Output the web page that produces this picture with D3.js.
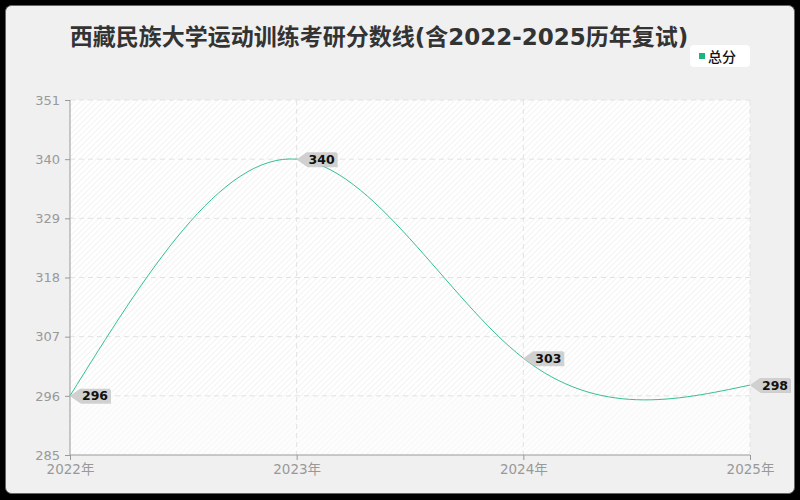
<!DOCTYPE html>
<html>
<head>
<meta charset="utf-8">
<script src="https://cdn.jsdelivr.net/npm/d3@7/dist/d3.min.js"></script>
<style>
	html, body { margin: 0; padding: 0; background: #000; }
	svg { display: block; font-family: 'DejaVu Sans', 'Noto Sans CJK SC', sans-serif; }
</style>
</head>
<body>
<div id="chart"></div>
<script>
const years = ['2022年', '2023年', '2024年', '2025年']
const scores = [296, 340, 303, 298]
const yTicks = [285, 296, 307, 318, 329, 340, 351]
const seriesName = '总分'
const title = '西藏民族大学运动训练考研分数线(含2022-2025历年复试)'

const width = 800
const height = 500
const margin = { top: 100, right: 50, bottom: 45, left: 70 }

const svg = d3.select('#chart').append('svg').attr('width', width).attr('height', height)

// hatch patterns for the plot background
const defs = svg.append('defs')
function hatch(id, bg, stroke) {
	const p = defs.append('pattern')
		.attr('id', id)
		.attr('patternUnits', 'userSpaceOnUse')
		.attr('width', 4).attr('height', 4)
		.attr('patternTransform', 'rotate(45)')
	p.append('rect').attr('width', 4).attr('height', 4).attr('fill', bg)
	p.append('line').attr('x1', 0).attr('y1', 0).attr('x2', 0).attr('y2', 4)
		.attr('stroke', stroke).attr('stroke-width', 1.5)
}
hatch('hatch', '#ffffff', '#efefef')
hatch('hatch2', '#fdfdfd', '#f5f5f5')

// outer frame
svg.append('rect').attr('width', width).attr('height', height).attr('fill', '#000')
svg.append('rect')
	.attr('x', 5.5).attr('y', 5.5).attr('width', width - 11).attr('height', height - 12)
	.attr('rx', 6)
	.attr('fill', '#f0f0f0')
	.attr('stroke', '#666').attr('stroke-width', 1)

const x = d3.scalePoint().domain(years).range([margin.left, width - margin.right])
const y = d3.scaleLinear().domain([285, 351]).range([height - margin.bottom, margin.top])

// plot background
svg.append('rect')
	.attr('x', margin.left).attr('y', margin.top)
	.attr('width', width - margin.left - margin.right)
	.attr('height', y(296) - margin.top)
	.attr('fill', 'url(#hatch)')
svg.append('rect')
	.attr('x', margin.left).attr('y', y(296))
	.attr('width', width - margin.left - margin.right)
	.attr('height', y(285) - y(296))
	.attr('fill', 'url(#hatch2)')

// grid
svg.append('g').selectAll('line').data(yTicks.slice(1)).enter().append('line')
	.attr('x1', margin.left).attr('x2', width - margin.right)
	.attr('y1', (d) => y(d)).attr('y2', (d) => y(d))
	.attr('stroke', '#e2e2e2').attr('stroke-dasharray', '5,4')
svg.append('g').selectAll('line').data(years.slice(1)).enter().append('line')
	.attr('x1', (d) => x(d)).attr('x2', (d) => x(d))
	.attr('y1', margin.top).attr('y2', height - margin.bottom)
	.attr('stroke', '#e2e2e2').attr('stroke-dasharray', '5,4')

// axes
const xAxis = svg.append('g')
	.attr('transform', `translate(0,${height - margin.bottom})`)
	.call(d3.axisBottom(x).tickSize(5).tickPadding(3))
const yAxis = svg.append('g')
	.attr('transform', `translate(${margin.left},0)`)
	.call(d3.axisLeft(y).tickValues(yTicks).tickSize(5).tickPadding(5))
;[xAxis, yAxis].forEach((a) => {
	a.selectAll('path, line').attr('stroke', '#999')
	a.selectAll('text').attr('fill', '#999').attr('font-size', 13)
		.attr('font-family', "'DejaVu Sans', 'Noto Sans CJK SC', sans-serif")
})
xAxis.selectAll('text').attr('font-size', 13.5).attr('dy', '0.78em')
xAxis.select('.domain').attr('d', `M${margin.left},0H${width - margin.right}`)
yAxis.select('.domain').attr('d', `M0,${margin.top}V${height - margin.bottom}`)

// line
const line = d3.line()
	.x((d, i) => x(years[i]))
	.y((d) => y(d))
	.curve(d3.curveNatural)
svg.append('path')
	.datum(scores)
	.attr('d', line)
	.attr('fill', 'none')
	.attr('stroke', '#34c08e')
	.attr('stroke-width', 1)

// value tags
const tags = svg.append('g').selectAll('g').data(scores).enter().append('g')
	.attr('transform', (d, i) => `translate(${x(years[i])},${y(d)})`)
tags.append('path')
	.attr('d', 'M1,1 L11,-6 H41 V8 H11 Z')
	.attr('fill', '#b5b5b5')
	.attr('opacity', 0.6)
tags.append('path')
	.attr('d', 'M0,0 L10,-7 H40 V7 H10 Z')
	.attr('fill', '#d0d0d0')
tags.append('text')
	.attr('x', 25).attr('y', 4.5)
	.attr('text-anchor', 'middle')
	.attr('font-size', 12.5).attr('font-weight', 'bold')
	.attr('font-family', "'DejaVu Sans', sans-serif")
	.attr('fill', '#111')
	.text((d) => d)

// title
svg.append('text')
	.attr('x', 379).attr('y', 45)
	.attr('text-anchor', 'middle')
	.attr('font-size', 23).attr('font-weight', 'bold')
	.attr('fill', '#333')
	.text(title)

// legend
const lg = svg.append('g').attr('transform', 'translate(690,45)')
lg.append('rect').attr('width', 60).attr('height', 22).attr('rx', 4).attr('fill', '#fff')
lg.append('rect').attr('x', 9).attr('y', 8).attr('width', 6).attr('height', 6).attr('fill', '#1db57e')
lg.append('text').attr('x', 18).attr('y', 16.5).attr('font-size', 14).attr('font-weight', 500)
	.attr('font-family', "'Noto Sans CJK SC', sans-serif")
	.attr('fill', '#111').text(seriesName)
</script>
</body>
</html>
